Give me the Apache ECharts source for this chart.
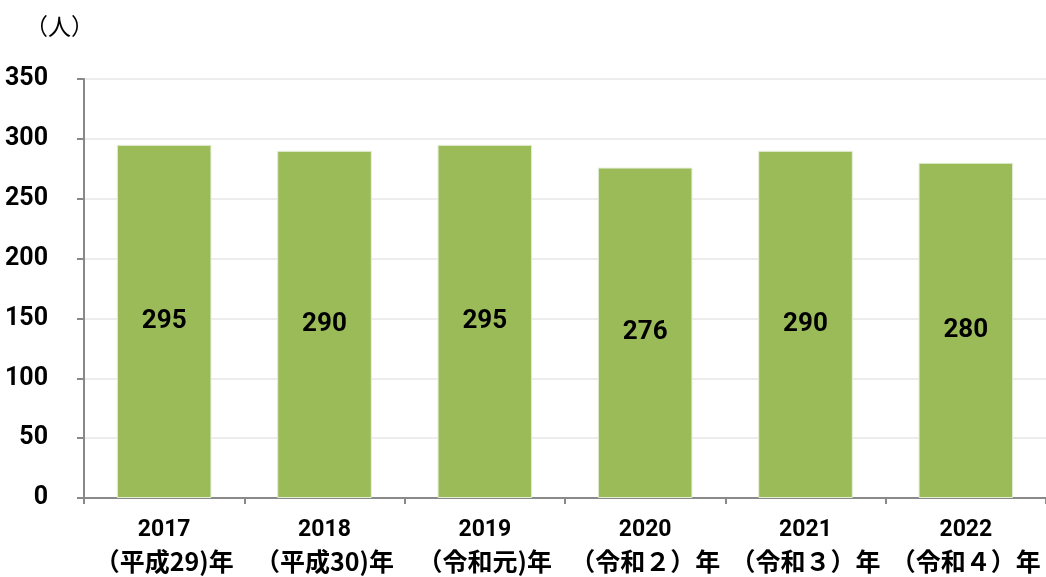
<!DOCTYPE html>
<html>
<head>
<meta charset="utf-8">
<script src="https://cdn.jsdelivr.net/npm/echarts@6/dist/echarts.min.js"></script>
<style>
  html, body { margin: 0; padding: 0; background: #fff; }
  #chart { width: 1046px; height: 577px; }
</style>
</head>
<body>
<div id="chart"></div>
<script>
// 年度ラベル（2行）
var years = ['2017', '2018', '2019', '2020', '2021', '2022'];
var eras = ['（平成29)年', '（平成30)年', '（令和元)年', '（令和２）年', '（令和３）年', '（令和４）年'];
// 人数
var counts = [295, 290, 295, 276, 290, 280];
var yTicks = [0, 50, 100, 150, 200, 250, 300, 350];

var numFont = "Roboto, 'Noto Sans CJK JP', sans-serif";

var categories = years.map(function (y, i) { return '{y|' + y + '}\n{e|' + eras[i] + '}'; });

var chart = echarts.init(document.getElementById('chart'));
chart.setOption({
  backgroundColor: '#fff',
  animation: false,
  title: {
    text: '（人）',
    left: 20,
    top: 10,
    textStyle: {
      fontFamily: "'Noto Sans CJK JP', sans-serif",
      fontWeight: 'normal',
      fontSize: 23,
      color: '#000'
    }
  },
  grid: {
    left: 84,
    right: 0,
    top: 79,
    bottom: 79,
    containLabel: false,
    outerBoundsMode: 'none'
  },
  xAxis: {
    type: 'category',
    data: categories,
    axisLine: { lineStyle: { color: '#898989', width: 2 } },
    axisTick: { show: true, length: 6, lineStyle: { color: '#898989', width: 2 } },
    axisLabel: {
      interval: 0,
      margin: 17,
      color: '#000',
      rich: {
        y: {
          fontFamily: numFont,
          fontWeight: 'bold',
          fontSize: 23,
          lineHeight: 30,
          color: '#000'
        },
        e: {
          fontFamily: "'Noto Sans CJK JP', sans-serif",
          fontWeight: 'bold',
          fontSize: 25,
          lineHeight: 32,
          color: '#000'
        }
      }
    }
  },
  yAxis: {
    type: 'value',
    min: yTicks[0],
    max: yTicks[yTicks.length - 1],
    interval: 50,
    axisLine: { show: true, lineStyle: { color: '#898989', width: 2 } },
    axisTick: { show: true, length: 7, lineStyle: { color: '#898989', width: 2 } },
    splitLine: { show: true, lineStyle: { color: '#ececec', width: 2 } },
    axisLabel: {
      margin: 36,
      color: '#000',
      fontFamily: numFont,
      fontWeight: 'bold',
      fontSize: 25
    }
  },
  series: [
    {
      type: 'bar',
      data: counts,
      barCategoryGap: '41%',
      itemStyle: {
        color: '#9BBB59',
        borderColor: '#e4eed6',
        borderWidth: 1
      },
      label: {
        show: true,
        position: 'inside',
        color: '#000',
        fontFamily: numFont,
        fontWeight: 'bold',
        fontSize: 26
      }
    }
  ]
});
</script>
</body>
</html>
